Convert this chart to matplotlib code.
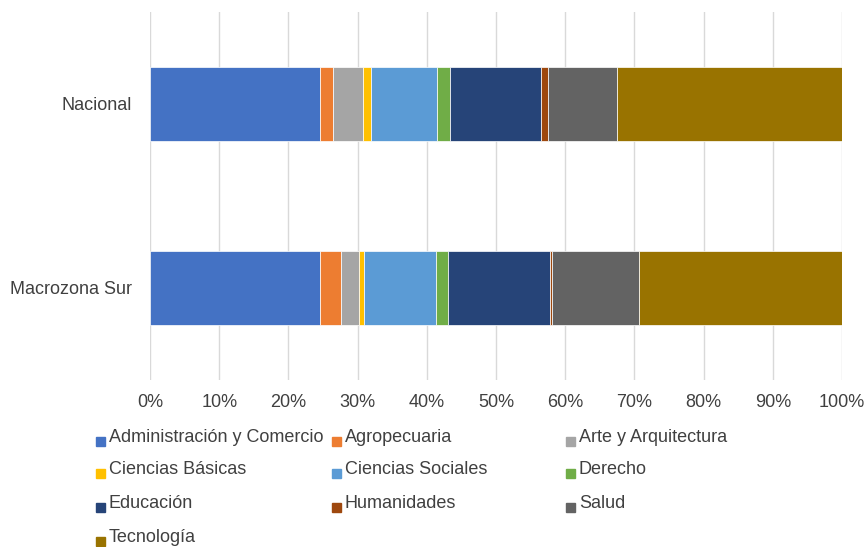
import matplotlib.pyplot as plt
from matplotlib.patches import Rectangle
from matplotlib.ticker import PercentFormatter

plt.rcParams['font.family'] = ['Liberation Sans', 'DejaVu Sans']

regions = ["Macrozona Sur", "Nacional"]
areas = ["Administración y Comercio", "Agropecuaria", "Arte y Arquitectura",
         "Ciencias Básicas", "Ciencias Sociales", "Derecho",
         "Educación", "Humanidades", "Salud", "Tecnología"]
# share (%) per area, order matches regions
admin = [24.5, 24.6]
agro = [3.1, 1.8]
arte = [2.6, 4.4]
basicas = [0.7, 1.1]
sociales = [10.4, 9.6]
derecho = [1.7, 1.8]
educacion = [14.8, 13.2]
humanidades = [0.3, 1.0]
salud = [12.5, 10.0]
tecnologia = [29.4, 32.5]
series = [admin, agro, arte, basicas, sociales, derecho,
          educacion, humanidades, salud, tecnologia]
colors = ["#4472C4", "#ED7D31", "#A5A5A5", "#FFC000", "#5B9BD5",
          "#70AD47", "#264478", "#9E480E", "#636363", "#997300"]

fig = plt.figure(figsize=(8.64, 5.47), dpi=100)
ax = fig.add_axes([150 / 864, 1 - 380 / 547, 692 / 864, 368 / 547])

left = [0.0] * len(regions)
for vals, col in zip(series, colors):
    ax.barh(range(len(regions)), vals, left=left, height=0.4, color=col,
            edgecolor="white", linewidth=0.5, zorder=3)
    left = [l + v for l, v in zip(left, vals)]

ax.set_xlim(0, 100)
ax.set_ylim(-0.5, 1.5)
ax.set_xticks(range(0, 101, 10))
ax.xaxis.set_major_formatter(PercentFormatter(decimals=0))
ax.set_yticks(range(len(regions)))
ax.set_yticklabels(regions)
ax.grid(axis="x", color="#D9D9D9", linewidth=1, zorder=0)
for s in ax.spines.values():
    s.set_visible(False)
ax.tick_params(axis="x", length=0, pad=10, labelsize=13, labelcolor="#404040")
ax.tick_params(axis="y", length=0, pad=13, labelsize=13, labelcolor="#404040")

# legend laid out like the original: 3 fixed-width columns, row-wise
col_x = [96, 332, 566]
row_y = [437, 469, 503, 537]
for i, (name, col) in enumerate(zip(areas, colors)):
    r, c = divmod(i, 3)
    x, y = col_x[c], row_y[r]
    fig.add_artist(Rectangle((x / 864, 1 - (y + 9) / 547), 9 / 864, 9 / 547,
                             transform=fig.transFigure, color=col))
    fig.text((x + 13) / 864, 1 - y / 547, name, fontsize=13, color="#404040",
             va="center", ha="left")

fig.savefig("out.png", dpi=100)
